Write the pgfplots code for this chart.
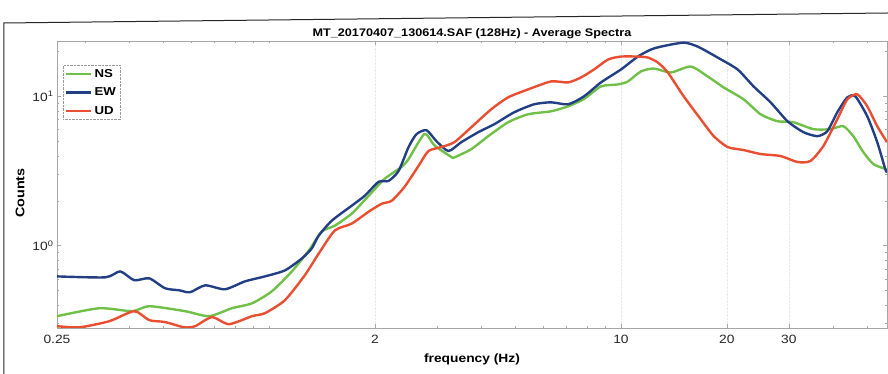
\documentclass[border=0pt]{standalone}
\usepackage{fontspec}
\setmainfont{Liberation Sans}[FakeStretch=1.15]
\usepackage{pgfplots}
\pgfplotsset{compat=1.18}
\definecolor{cNS}{RGB}{112,192,72}
\definecolor{cEW}{RGB}{34,62,132}
\definecolor{cUD}{RGB}{234,78,48}

\begin{document}
\begin{tikzpicture}
\begin{axis}[
  at={(0,0)}, anchor=south west,
  scale only axis, width=830pt, height=287pt,
  xmode=log, ymode=log,
  xmin=0.25, xmax=57, ymin=0.28, ymax=23.5,
  xtick={0.25,2,10,20,30}, xticklabels={0.25,2,10,20,30},
  minor xtick={0.3,0.4,0.5,0.6,0.7,0.8,0.9,1,3,4,5,6,7,8,9,40,50},
  ytick={1,10}, yticklabels={10\textsuperscript{0},10\textsuperscript{1}},
  minor ytick={0.3,0.4,0.5,0.6,0.7,0.8,0.9,2,3,4,5,6,7,8,9,20},
  ticklabel style={font=\fontsize{12}{14}\selectfont, text=black!85},
  xticklabel style={yshift=-4pt},
  axis line style={gray!70},
  tick style={gray!70},
  major tick length=4pt, minor tick length=2.5pt,
  xmajorgrids, major grid style={gray!18, densely dotted},
  title={MT\_20170407\_130614.SAF (128Hz) - Average Spectra},
  title style={font=\bfseries\fontsize{11}{13}\selectfont, yshift=-7pt},
  xlabel={frequency (Hz)},
  xlabel style={font=\bfseries\fontsize{12}{14}\selectfont, yshift=-3pt},
  ylabel={Counts},
  ylabel style={font=\bfseries\fontsize{12.5}{14}\selectfont, at={(axis description cs:-0.0446,0.47)}, anchor=center},
  legend style={at={(axis description cs:0.0072,0.916)}, anchor=north west,
    draw=gray!80, densely dotted, font=\bfseries\fontsize{11.5}{13}\selectfont,
    inner sep=2pt, row sep=5pt, cells={anchor=west}},
  legend image code/.code={\draw[#1,solid] (0pt,0pt) -- (25pt,0pt);},
  every axis plot/.append style={line width=2.4pt, solid, line join=round, smooth, tension=0.4},
]
\addplot[cNS] coordinates {
(0.25,0.336) (0.330,0.380) (0.409,0.363) (0.457,0.392) (0.578,0.363) (0.676,0.336)
(0.785,0.380) (0.895,0.410) (1.020,0.494) (1.162,0.671) (1.298,0.926) (1.413,1.240)
(1.538,1.359) (1.718,1.634) (1.920,2.154) (2.131,2.797) (2.381,3.363) (2.493,3.80)
(2.767,5.60) (2.95,4.70) (3.300,3.92) (3.366,3.90) (3.758,4.43) (4.199,5.41)
(4.784,6.71) (5.451,7.586) (6.334,7.943) (7.078,8.577) (7.854,9.6) (8.776,11.66)
(9.806,12.02) (10.47,12.59) (11.39,14.68) (12.40,15.37) (13.86,14.45) (15.79,15.85)
(17.64,13.59) (19.58,11.48) (22.31,9.55) (24.93,7.586) (27.85,6.81) (30.90,6.71)
(35.22,6.026) (39.35,6.026) (42.83,6.31) (45.71,5.41) (48.80,4.233) (52.09,3.52)
(56.34,3.262) (57,3.2)
};
\addlegendentry{NS}
\addplot[cEW] coordinates {
(0.25,0.621) (0.343,0.612) (0.378,0.671) (0.4145,0.585) (0.457,0.603) (0.507,0.517)
(0.556,0.501) (0.597,0.486) (0.659,0.541) (0.750,0.509) (0.855,0.575) (0.974,0.621)
(1.110,0.681) (1.240,0.819) (1.323,0.955) (1.385,1.166) (1.509,1.468) (1.718,1.848)
(1.871,2.154) (2.049,2.672) (2.188,2.712) (2.335,3.162) (2.493,4.571) (2.626,5.58)
(2.803,5.93) (2.991,5.01) (3.236,4.30) (3.522,4.935) (3.935,5.754) (4.367,6.506)
(4.975,7.822) (5.667,8.845) (6.334,9.12) (7.078,8.845) (7.854,10.0) (8.776,12.40)
(10.0,15.14) (11.17,18.48) (12.16,20.58) (12.98,21.54) (15.08,22.91) (16.53,21.54)
(18.83,18.20) (21.45,15.14) (23.81,11.66) (26.61,9.12) (29.73,6.81) (33.00,5.754)
(36.14,5.41) (38.58,5.84) (41.18,7.822) (43.97,9.85) (46.33,10.0) (50.08,7.356)
(53.46,4.935) (56.34,3.262) (57,3.1)
};
\addlegendentry{EW}
\addplot[cUD] coordinates {
(0.25,0.288) (0.2896,0.283) (0.352,0.311) (0.4145,0.363) (0.457,0.316) (0.507,0.307)
(0.574,0.283) (0.617,0.288) (0.689,0.331) (0.770,0.297) (0.895,0.336) (0.974,0.352)
(1.110,0.430) (1.264,0.631) (1.385,0.884) (1.538,1.259) (1.718,1.402) (1.920,1.685)
(2.090,1.905) (2.231,1.995) (2.428,2.474) (2.660,3.415) (2.839,4.30) (3.091,4.571)
(3.366,4.935) (3.758,6.21) (4.281,8.19) (4.784,9.85) (5.451,11.14) (6.334,12.59)
(7.078,12.40) (7.705,13.39) (8.385,15.14) (9.189,17.65) (10.0,18.48) (11.17,18.48)
(11.93,18.20) (12.73,16.86) (13.59,14.45) (15.08,10.0) (16.85,7.026) (18.35,5.41)
(20.10,4.571) (22.31,4.365) (24.93,4.105) (28.40,3.981) (31.72,3.631) (34.53,3.687)
(37.58,4.64) (41.18,7.026) (43.97,9.55) (46.94,10.31) (50.08,8.577) (53.46,6.31)
(57,4.93)
};
\addlegendentry{UD}
\end{axis}
\draw[black!85, line width=1pt] (-53pt,-46pt) -- (-53pt,305pt) -- (831pt,315pt);
\pgfresetboundingbox
\useasboundingbox (-57pt,-46pt) rectangle (831pt,328pt);
\end{tikzpicture}
\end{document}
